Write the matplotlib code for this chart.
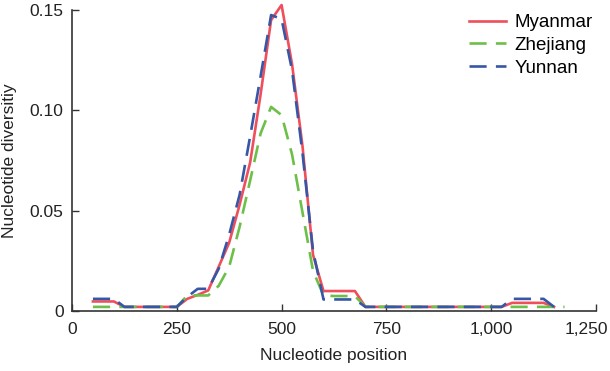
import numpy as np
import matplotlib
matplotlib.use("Agg")
import matplotlib.pyplot as plt
from matplotlib.transforms import ScaledTranslation

plt.rcParams['font.family'] = ['Liberation Sans', 'DejaVu Sans']

# sliding window positions
positions = [50, 75, 100, 125, 150, 175, 200, 225, 250, 275, 300, 325, 350, 375,
             400, 425, 450, 475, 500, 525, 550, 575, 600, 625, 650, 675, 700, 725,
             750, 775, 800, 825, 850, 875, 900, 925, 950, 975, 1000, 1025, 1050,
             1075, 1100, 1125, 1150, 1175]

myanmar = [0.0047, 0.0047, 0.0047, 0.002, 0.002, 0.002, 0.002, 0.002, 0.002, 0.006,
           0.008, 0.0102, 0.022, 0.034, 0.053, 0.074, 0.108, 0.145, 0.1525, 0.123,
           0.082, 0.028, 0.0099, 0.0099, 0.0099, 0.0099, 0.002, 0.002, 0.002, 0.002,
           0.002, 0.002, 0.002, 0.002, 0.002, 0.002, 0.002, 0.002, 0.002, 0.002,
           0.004, 0.004, 0.004, 0.004, 0.002, np.nan]

zhejiang = [0.002, 0.002, 0.002, 0.002, 0.002, 0.002, 0.002, 0.002, 0.002, 0.0077,
            0.0077, 0.0077, 0.0125, 0.022, 0.042, 0.065, 0.0885, 0.1017, 0.0976, 0.078,
            0.049, 0.02, 0.0077, 0.0074, 0.0074, 0.0074, 0.002, 0.002, 0.002, 0.002,
            0.002, 0.002, 0.002, 0.002, 0.002, 0.002, 0.002, 0.002, 0.002, 0.002,
            0.002, 0.002, 0.002, 0.002, 0.002, 0.002]

yunnan = [0.006, 0.006, 0.006, 0.002, 0.002, 0.002, 0.002, 0.002, 0.002, 0.007,
          0.011, 0.011, 0.021, 0.038, 0.058, 0.087, 0.117, 0.1475, 0.1455, 0.12,
          0.0785, 0.03, 0.0057, 0.0057, 0.0057, 0.0057, 0.002, 0.002, 0.002, 0.002,
          0.002, 0.002, 0.002, 0.002, 0.002, 0.002, 0.002, 0.002, 0.002, 0.002,
          0.006, 0.006, 0.006, 0.006, 0.002, np.nan]

xticks = [0, 250, 500, 750, 1000, 1250]
xticklabels = ['0', '250', '500', '750', '1,000', '1,250']
yticks = [0, 0.05, 0.10, 0.15]
yticklabels = ['0', '0.05', '0.10', '0.15']

fig = plt.figure(figsize=(6.1, 3.71), dpi=100)
ax = fig.add_axes([0.118, 0.162, 0.859, 0.811])

ax.plot(positions, myanmar, color='#ef4f5c', lw=1.9, label='Myanmar', clip_on=False)
ax.plot(positions, zhejiang, color='#6cc04a', lw=1.9, dashes=(6.5, 3.5),
        label='Zhejiang', clip_on=False)
ax.plot(positions, yunnan, color='#3656a6', lw=1.9, dashes=(6.5, 3.5),
        label='Yunnan', clip_on=False)

ax.set_xlim(0, 1250)
ax.set_ylim(0, 0.15)
ax.set_xticks(xticks)
ax.set_xticklabels(xticklabels)
ax.set_yticks(yticks)
ax.set_yticklabels(yticklabels)

for s in ['top', 'right']:
    ax.spines[s].set_visible(False)
for s in ['left', 'bottom']:
    ax.spines[s].set_color('#333333')
    ax.spines[s].set_linewidth(1.2)

ax.tick_params(direction='in', length=5, width=1, color='#333333',
               labelsize=12.5, labelcolor='#222222')
ax.tick_params(axis='x', pad=8)
ax.tick_params(axis='y', pad=6)

# last x label sits a bit left of its tick, as in the original
last = ax.get_xticklabels()[-1]
last.set_transform(last.get_transform() + ScaledTranslation(-10 / 100, 0, fig.dpi_scale_trans))

ax.set_xlabel('Nucleotide position', fontsize=12.5, color='#222222', labelpad=8)
ax.set_ylabel('Nucleotide diversitiy', fontsize=12.5, color='#222222', labelpad=9)

ax.legend(loc='upper right', frameon=False, fontsize=13.5, handlelength=2.0,
          handletextpad=0.45, labelspacing=0.3, borderpad=0, borderaxespad=0,
          bbox_to_anchor=(593 / 610, 1 - 14 / 371), bbox_transform=fig.transFigure)

fig.savefig('out.png', dpi=100)
